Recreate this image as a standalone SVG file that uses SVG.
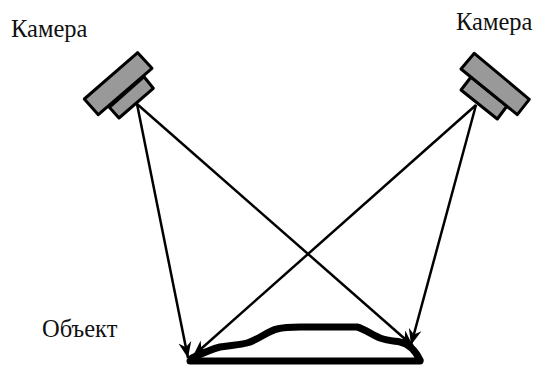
<svg xmlns="http://www.w3.org/2000/svg" width="533" height="365" viewBox="0 0 533 365">
<style>
text{font-family:"Liberation Serif","Times New Roman",serif;font-size:24.5px;fill:#111}
.b{fill:#999;stroke:#000;stroke-width:3;stroke-linejoin:round}
.c{fill:none;stroke:#000;stroke-width:2.5;marker-end:url(#a)}
</style>
<defs><marker id="a" markerUnits="userSpaceOnUse" markerWidth="18" markerHeight="14" refX="16" refY="7" orient="auto"><path d="M0 0.5L16 7L0 13.5L5 7Z" fill="#000"/></marker></defs>
<rect width="533" height="365" fill="#fff"/>
<g id="connectors">
<path class="c" d="M137 104L188 358"/>
<path class="c" d="M137 104L413 346"/>
<path class="c" d="M476 105L193 356"/>
<path class="c" d="M476 105L411 345"/>
</g>
<g id="camera-left">
<path class="b" d="M144 76.7L153.3 88.3L119 118L109.3 107.3Z"/>
<path class="b" d="M137.7 52.7L152 68.3L98.3 114.7L84.3 99Z"/>
<text x="11" y="37">Камера</text>
</g>
<g id="camera-right">
<path class="b" d="M471 77L507 106L497.3 119L461 90Z"/>
<path class="b" d="M474.3 53.3L529.3 99.3L517.3 114.7L461 69Z"/>
<text x="456" y="30">Камера</text>
</g>
<g id="object">
<path d="M190 361H420" fill="none" stroke="#000" stroke-width="7" stroke-linecap="round"/>
<path d="M192 358C205 352 212 349 220 347C232 345 240 345 247 343C258 340 268 331 277 329C288 326 300 327 312 327L357 327C365 329 372 335 380 338C388 341 394 341 400 342C410 344 416 352 420 360" fill="none" stroke="#000" stroke-width="7" stroke-linecap="round" stroke-linejoin="round"/>
<text x="42" y="337">Объект</text>
</g>
</svg>
